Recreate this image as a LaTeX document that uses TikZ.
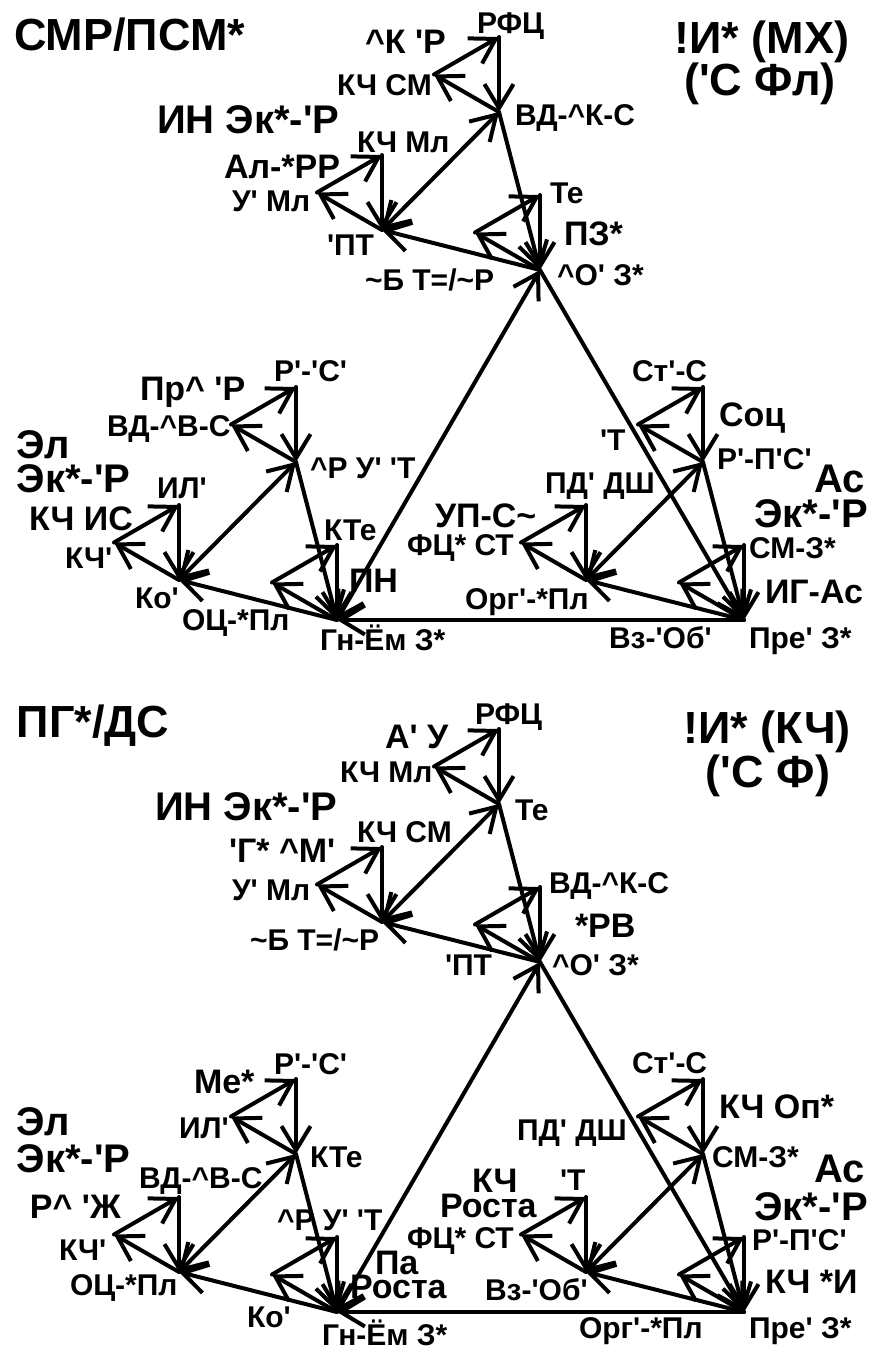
\documentclass[tikz,border=0pt]{standalone}
\usepackage{fontspec}
\setmainfont{Liberation Sans}[Ligatures=TeXOff]
\usetikzlibrary{arrows.meta}

\tikzset{
  arr/.style={-{Straight Barb[length=12pt,width=14.5pt]}},
  darr/.style={{Straight Barb[length=12pt,width=14.5pt]}-{Straight Barb[length=12pt,width=14.5pt]}},
  lbls/.style={inner sep=0pt,anchor=base west,font=\bfseries\fontsize{15}{18}\selectfont},
  lblm/.style={lbls,font=\bfseries\fontsize{17}{20}\selectfont},
  lblb/.style={lbls,font=\bfseries\fontsize{20}{24}\selectfont},
  ttl/.style={lbls,font=\bfseries\fontsize{22.5}{27}\selectfont},
}

\begin{document}
\begin{tikzpicture}[x=0.5pt,y=-0.5pt,line width=2pt,line cap=round]
\useasboundingbox (0,0) rectangle (872,1351);

% two triangles of triangles, the lower one 692 down
\foreach \d/\dy in {1/0,2/692}{
  \coordinate (a\d) at (540,270+\dy);
  \coordinate (b\d) at (337,620+\dy);
  \coordinate (c\d) at (744,620+\dy);
  \foreach \v in {a,b,c}{
    \path (\v\d) ++(-41,-158) coordinate (\v\d t);
    \path (\v\d) ++(-158,-40) coordinate (\v\d l);
    \draw[arr] (\v\d) -- (\v\d l);
    \draw[darr] (\v\d l) -- (\v\d t);
    \draw[arr] (\v\d t) -- (\v\d);
    \foreach \q in {\v\d,\v\d t,\v\d l}{
      \path (\q) ++(0,-75) coordinate (\q-t);
      \path (\q) ++(-65,-37.5) coordinate (\q-l);
      \draw[arr] (\q) -- (\q-l);
      \draw[arr] (\q-l) -- (\q-t);
      \draw[arr] (\q-t) -- (\q);
    }
  }
  \draw[arr] (c\d) -- (b\d);
  \draw[darr] (b\d) -- (a\d);
  \draw[arr] (a\d) -- (c\d);
}

% upper picture
\node[ttl] (smr) at (12,50) {СМР/ПСМ*};
\node[ttl,anchor=base] (imx) at (762,53) {!И* (МХ)};
\node[ttl,anchor=base] (sfl) at (760,95) {('С Фл)};
\node[lblm] (u4) at (363,53) {\textasciicircum К 'Р};
\node[lbls] (u5) at (475,33) {РФЦ};
\node[lbls] (u6) at (335,95) {КЧ СМ};
\node[lbls] (u7) at (513,125) {ВД-\textasciicircum К-С};
\node[lblb] (u8) at (155,133) {ИН Эк*-'Р};
\node[lbls] (u9) at (355,152) {КЧ Мл};
\node[lblm] (u10) at (222,178) {Ал-*РР};
\node[lbls] (u11) at (230,211) {У' Мл};
\node[lbls] (u12) at (325,255) {'ПТ};
\node[lbls] (u13) at (363,290) {\textasciitilde Б Т=/\textasciitilde Р};
\node[lbls] (u14) at (548,203) {Те};
\node[lblm] (u15) at (562,245) {ПЗ*};
\node[lbls] (u16) at (555,285) {\textasciicircum О' З*};
\node[lblm] (u17) at (138,400) {Пр\textasciicircum{} 'Р};
\node[lbls] (u18) at (272,381) {Р'-'С'};
\node[lbls] (u19) at (105,436) {ВД-\textasciicircum В-С};
\node[lblb] (u20) at (15,458) {Эл};
\node[lblb] (u21) at (15,492) {Эк*-'Р};
\node[lbls] (u22) at (308,478) {\textasciicircum Р У' 'Т};
\node[lbls] (u23) at (155,498) {ИЛ'};
\node[lblm] (u24) at (27,530) {КЧ ИС};
\node[lbls] (u25) at (63,568) {КЧ'};
\node[lbls] (u26) at (322,540) {КТе};
\node[lblm] (u27) at (347,592) {ПН};
\node[lbls] (u28) at (133,608) {Ко'};
\node[lbls] (u29) at (180,630) {ОЦ-*Пл};
\node[lbls] (u30) at (318,650) {Гн-Ём З*};
\node[lbls] (u31) at (630,381) {Ст'-С};
\node[lblm] (u32) at (717,426) {Соц};
\node[lbls] (u33) at (598,450) {'Т};
\node[lbls] (u34) at (715,469) {Р'-П'С'};
\node[lblb,anchor=base east] (u35) at (867,492) {Ас};
\node[lblb,anchor=base east] (u36) at (870,527) {Эк*-'Р};
\node[lbls] (u37) at (543,493) {ПД' ДШ};
\node[lblm] (u38) at (433,527) {УП-С\textasciitilde};
\node[lbls] (u39) at (405,555) {ФЦ* СТ};
\node[lbls] (u40) at (747,558) {СМ-З*};
\node[lblm] (u41) at (763,603) {ИГ-Ас};
\node[lbls] (u42) at (463,609) {Орг'-*Пл};
\node[lbls] (u43) at (607,648) {Вз-'Об'};
\node[lbls] (u44) at (747,648) {Пре' З*};

% lower picture
\node[ttl] (pgds) at (15,737) {ПГ*/ДС};
\node[ttl,anchor=base] (ikch) at (767,743) {!И* (КЧ)};
\node[ttl,anchor=base] (sf) at (768,787) {('С Ф)};
\node[lblm] (w4) at (383,748) {А' У};
\node[lbls] (w5) at (473,724) {РФЦ};
\node[lbls] (w6) at (338,782) {КЧ Мл};
\node[lbls] (w7) at (513,820) {Те};
\node[lblb] (w8) at (153,820) {ИН Эк*-'Р};
\node[lbls] (w9) at (355,842) {КЧ СМ};
\node[lblm] (w10) at (227,862) {'Г* \textasciicircum М'};
\node[lbls] (w11) at (230,900) {У' Мл};
\node[lbls] (w12) at (248,950) {\textasciitilde Б Т=/\textasciitilde Р};
\node[lbls] (w13) at (547,893) {ВД-\textasciicircum К-С};
\node[lblm] (w14) at (573,937) {*РВ};
\node[lbls] (w15) at (443,975) {'ПТ};
\node[lbls] (w16) at (550,975) {\textasciicircum О' З*};
\node[lblm] (w17) at (192,1093) {Ме*};
\node[lbls] (w18) at (272,1074) {Р'-'С'};
\node[lbls] (w19) at (177,1138) {ИЛ'};
\node[lblb] (w20) at (15,1135) {Эл};
\node[lblb] (w21) at (15,1172) {Эк*-'Р};
\node[lbls] (w22) at (308,1167) {КТе};
\node[lbls] (w23) at (137,1188) {ВД-\textasciicircum В-С};
\node[lblm] (w24) at (28,1218) {Р\textasciicircum{} 'Ж};
\node[lbls] (w25) at (275,1230) {\textasciicircum Р У' 'Т};
\node[lbls] (w26) at (57,1260) {КЧ'};
\node[lblm] (w27) at (373,1274) {Па};
\node[lblm] (w28) at (348,1298) {Роста};
\node[lbls] (w29) at (68,1295) {ОЦ-*Пл};
\node[lbls] (w30) at (245,1327) {Ко'};
\node[lbls] (w31) at (320,1345) {Гн-Ём З*};
\node[lbls] (w32) at (630,1073) {Ст'-С};
\node[lblm] (w33) at (717,1118) {КЧ Оп*};
\node[lbls] (w34) at (515,1140) {ПД' ДШ};
\node[lbls] (w35) at (710,1167) {СМ-З*};
\node[lblb,anchor=base east] (w36) at (867,1182) {Ас};
\node[lblm] (w37) at (470,1192) {КЧ};
\node[lbls] (w38) at (558,1190) {'Т};
\node[lblm] (w39) at (438,1217) {Роста};
\node[lblb,anchor=base east] (w40) at (870,1220) {Эк*-'Р};
\node[lbls] (w41) at (405,1248) {ФЦ* СТ};
\node[lbls] (w42) at (750,1250) {Р'-П'С'};
\node[lblm] (w43) at (763,1293) {КЧ *И};
\node[lbls] (w44) at (483,1300) {Вз-'Об'};
\node[lbls] (w45) at (577,1338) {Орг'-*Пл};
\node[lbls] (w46) at (747,1338) {Пре' З*};
\end{tikzpicture}
\end{document}
